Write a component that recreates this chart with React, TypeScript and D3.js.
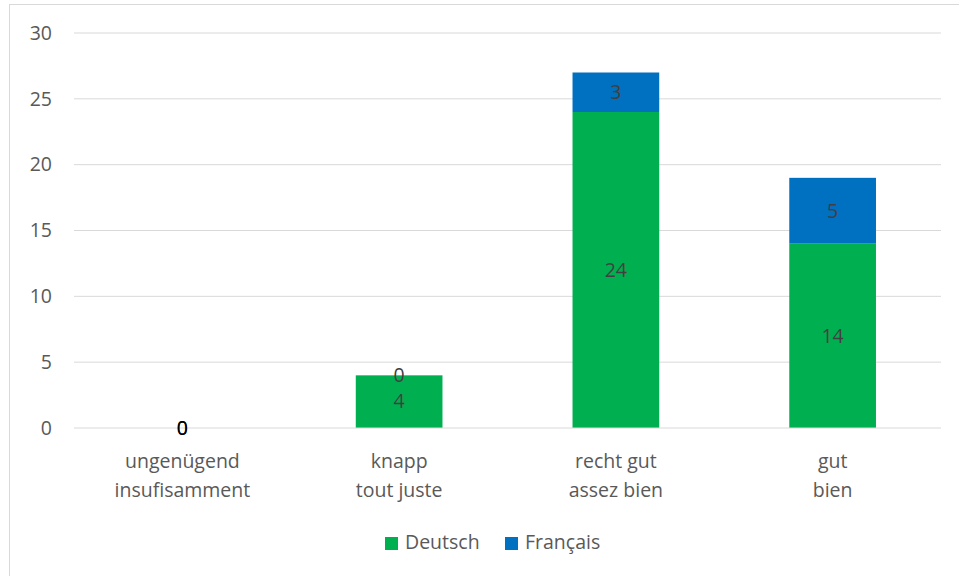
import React from "react";
import * as d3 from "d3";

const categories = ["ungenügend|insufisamment", "knapp|tout juste", "recht gut|assez bien", "gut|bien"];
const deutsch = [0, 4, 24, 14];
const francais = [0, 0, 3, 5];
const yTicks = [0, 5, 10, 15, 20, 25, 30];
const seriesNames = ["Deutsch", "Français"];
const seriesColors = ["#00B050", "#0070C0"];

const W = 959, H = 576;
const FONT = "'Open Sans', 'Liberation Sans', sans-serif";
const FS = 19.5;

export default function App() {
  const x = d3.scaleBand<string>().domain(categories).range([74, 941]).paddingInner(0.6).paddingOuter(0.3);
  const y = d3.scaleLinear().domain([0, 30]).range([428, 33]);
  const stack = categories.map((c, i) => {
    const d0 = deutsch[i];
    const f0 = francais[i];
    return [
      { y0: 0, y1: d0, v: d0 },
      { y0: d0, y1: d0 + f0, v: f0 },
    ];
  });
  return (
    <svg width={W} height={H} style={{ position: "absolute", left: 0, top: 0, background: "#fff" }}>
      <rect x={9.5} y={4.5} width={W} height={H} fill="#fff" stroke="#d9d9d9" strokeWidth={1} />
      {yTicks.map((t) => (
        <g key={t}>
          {t > 0 && <line x1={74} x2={941} y1={y(t)} y2={y(t)} stroke="#d9d9d9" strokeWidth={1} />}
          <text x={52} y={y(t)} dy="0.35em" textAnchor="end" fontFamily={FONT} fontSize={FS} fill="#595959">{t}</text>
        </g>
      ))}
      {categories.map((c, i) =>
        stack[i].map((s, j) =>
          s.v > 0 ? (
            <rect key={c + j} x={x(c)} width={x.bandwidth()} y={y(s.y1)} height={y(s.y0) - y(s.y1)} fill={seriesColors[j]} />
          ) : null
        )
      )}
      <line x1={74} x2={941} y1={y(0)} y2={y(0)} stroke="#d9d9d9" strokeWidth={1} />
      {categories.map((c, i) =>
        stack[i].map((s, j) => (
          <text key={"l" + c + j} x={(x(c) as number) + x.bandwidth() / 2} y={(y(s.y0) + y(s.y1)) / 2} dy="0.35em"
            textAnchor="middle" fontFamily={FONT} fontSize={FS} fill={s.v === 0 && i === 0 ? "#000" : "#404040"}>{s.v}</text>
        ))
      )}
      {categories.map((c) => {
        const parts = c.split("|");
        return (
          <g key={"c" + c}>
            {parts.map((p, k) => (
              <text key={k} x={(x(c) as number) + x.bandwidth() / 2} y={461 + k * 29} dy="0.35em" textAnchor="middle"
                fontFamily={FONT} fontSize={FS} fill="#595959">{p}</text>
            ))}
          </g>
        );
      })}
      {seriesNames.map((n, i) => {
        const lx = [385, 505][i];
        return (
          <g key={n}>
            <rect x={lx} y={537} width={13} height={13} fill={seriesColors[i]} />
            <text x={lx + 20} y={542} dy="0.35em" fontFamily={FONT} fontSize={FS} fill="#595959">{n}</text>
          </g>
        );
      })}
    </svg>
  );
}
